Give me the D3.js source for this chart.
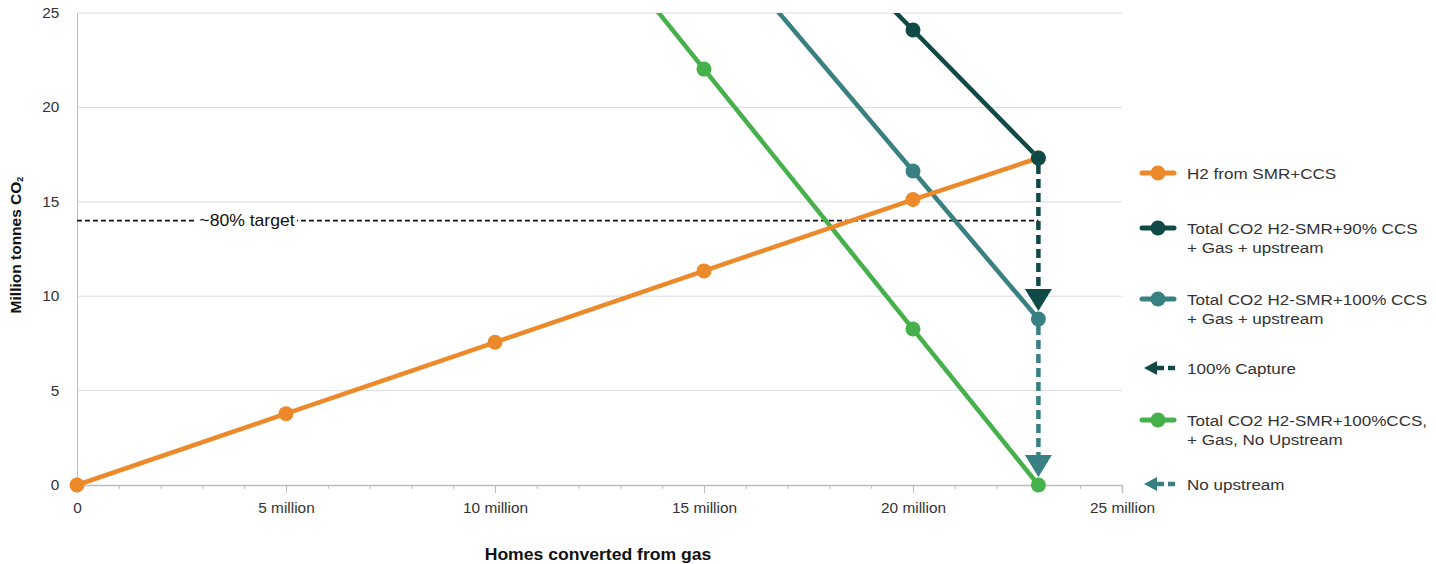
<!DOCTYPE html>
<html>
<head>
<meta charset="utf-8">
<script src="https://cdn.jsdelivr.net/npm/d3@7"></script>
<style>
  body { margin: 0; background: #fff; }
  svg { display: block; font-family: "Liberation Sans", Arial, sans-serif; }
</style>
</head>
<body>
<svg id="chart" width="1436" height="564"></svg>
<script>
// ---- Data ----
const homesMillions = [0, 5, 10, 15, 20, 23];
const h2FromSMR     = [0, 3.78, 7.56, 11.34, 15.12, 17.32];
const total90CCS    = [null, null, null, 35.4, 24.1, 17.32];
const total100CCS   = [null, null, null, 29.7, 16.63, 8.79];
const total100NoUp  = [null, null, 35.8, 22.03, 8.26, 0];
const targetValue = 14;
const targetEndX = 23;
const arrowX = 23;
const captureArrow = [17.32, 8.79];
const noUpstreamArrow = [8.79, 0];
const xTicks = [0, 5, 10, 15, 20, 25];
const yTicks = [0, 5, 10, 15, 20, 25];

const colors = {
  orange: "#EC8A2B",
  dark: "#0F4A46",
  teal: "#388081",
  green: "#46B04B"
};

const series = [
  { name: "H2 from SMR+CCS", values: h2FromSMR, color: colors.orange },
  { name: "Total CO2 H2-SMR+90% CCS", values: total90CCS, color: colors.dark },
  { name: "Total CO2 H2-SMR+100% CCS", values: total100CCS, color: colors.teal },
  { name: "Total CO2 H2-SMR+100%CCS, No Upstream", values: total100NoUp, color: colors.green }
];

const legendItems = [
  { type: "line", color: colors.orange, lines: ["H2 from SMR+CCS"] },
  { type: "line", color: colors.dark, lines: ["Total CO2 H2-SMR+90% CCS", "+ Gas + upstream"] },
  { type: "line", color: colors.teal, lines: ["Total CO2 H2-SMR+100% CCS", "+ Gas + upstream"] },
  { type: "arrow", color: colors.dark, lines: ["100% Capture"] },
  { type: "line", color: colors.green, lines: ["Total CO2 H2-SMR+100%CCS,", "+ Gas, No Upstream"] },
  { type: "arrow", color: colors.teal, lines: ["No upstream"] }
];

// ---- Layout ----
const svg = d3.select("#chart");
const mLeft = 77, mRight = 1122, mTop = 13, mBottom = 485;
const sx = 1.1; // horizontal stretch of text
const x = d3.scaleLinear().domain([0, 25]).range([mLeft, mRight]);
const y = d3.scaleLinear().domain([0, 25]).range([mBottom, mTop]);

// gridlines
svg.append("g").selectAll("line").data(yTicks.filter(d => d > 0)).join("line")
  .attr("x1", mLeft).attr("x2", mRight)
  .attr("y1", d => y(d)).attr("y2", d => y(d))
  .attr("stroke", "#dcdcdc").attr("stroke-width", 1);

// y axis
const yAxis = svg.append("g").attr("transform", `translate(${mLeft},0)`)
  .call(d3.axisLeft(y).tickValues(yTicks).tickSize(0).tickPadding(16));
yAxis.select(".domain").attr("stroke", "#bdbdbd");
yAxis.selectAll("text").attr("font-size", 14).attr("fill", "#333")
  .attr("font-family", "Liberation Sans, Arial, sans-serif")
  .attr("transform", `scale(${sx},1)`);

// x minor ticks
const minor = d3.range(1, 25).filter(d => d % 5 !== 0);
const xMinor = svg.append("g").attr("transform", `translate(0,${mBottom})`)
  .call(d3.axisBottom(x).tickValues(minor).tickSize(4).tickFormat(""));
xMinor.select(".domain").remove();
xMinor.selectAll("line").attr("stroke", "#bdbdbd");

// x axis
const xAxis = svg.append("g").attr("transform", `translate(0,${mBottom})`)
  .call(d3.axisBottom(x).tickValues(xTicks).tickSize(8).tickPadding(10)
    .tickFormat(d => d === 0 ? "0" : d + " million"));
xAxis.select(".domain").attr("stroke", "#bdbdbd").attr("stroke-width", 1.5);
xAxis.selectAll("line").attr("stroke", "#bdbdbd");
xAxis.selectAll("text").attr("font-size", 14).attr("fill", "#333")
  .attr("font-family", "Liberation Sans, Arial, sans-serif")
  .attr("transform", `scale(${sx},1)`);

// axis titles
svg.append("text").attr("transform", `translate(598,560) scale(${sx},1)`).attr("text-anchor", "middle")
  .attr("font-size", 16).attr("font-weight", "bold").attr("fill", "#111")
  .text("Homes converted from gas");
const yt = svg.append("text").attr("transform", "translate(21,245) rotate(-90)")
  .attr("text-anchor", "middle").attr("font-size", 15.5).attr("font-weight", "bold").attr("fill", "#111");
yt.append("tspan").text("Million tonnes CO");
yt.append("tspan").attr("font-size", 9).attr("dy", 2).text("2");

// target line
svg.append("line")
  .attr("x1", x(0)).attr("x2", x(targetEndX))
  .attr("y1", y(targetValue)).attr("y2", y(targetValue))
  .attr("stroke", "#111").attr("stroke-width", 1.8).attr("stroke-dasharray", "5,3");
const tLabelX = 247;
svg.append("rect").attr("x", tLabelX - 50).attr("y", y(targetValue) - 10)
  .attr("width", 100).attr("height", 20).attr("fill", "#fff");
svg.append("text").attr("transform", `translate(${tLabelX},${y(targetValue) + 5.5}) scale(${sx},1)`)
  .attr("text-anchor", "middle").attr("font-size", 16).attr("fill", "#111")
  .text("~80% target");

// clip
svg.append("clipPath").attr("id", "plotclip").append("rect")
  .attr("x", 0).attr("y", mTop).attr("width", 1436).attr("height", 564 - mTop);
const plot = svg.append("g").attr("clip-path", "url(#plotclip)");

// arrows
function drawArrow(g, xv, vals, color) {
  const px = x(xv);
  const y0 = y(vals[0]) + 7;
  const tip = y(vals[1]) - 8;
  const headH = 22, headW = 27;
  g.append("line").attr("x1", px).attr("x2", px)
    .attr("y1", y0).attr("y2", tip - headH + 2)
    .attr("stroke", color).attr("stroke-width", 4.5).attr("stroke-dasharray", "9,5");
  g.append("path")
    .attr("d", `M${px - headW / 2},${tip - headH}L${px + headW / 2},${tip - headH}L${px},${tip}Z`)
    .attr("fill", color);
}
drawArrow(svg, arrowX, captureArrow, colors.dark);
drawArrow(svg, arrowX, noUpstreamArrow, colors.teal);

// lines
const lineGen = d3.line().defined(d => d[1] !== null).x(d => x(d[0])).y(d => y(d[1]));
const lineOrder = [series[3], series[2], series[1], series[0]];
lineOrder.forEach(s => {
  const pts = homesMillions.map((h, i) => [h, s.values[i]]);
  plot.append("path").datum(pts).attr("d", lineGen)
    .attr("fill", "none").attr("stroke", s.color).attr("stroke-width", 4.5)
    .attr("stroke-linecap", "round");
});
const dotOrder = [series[0], series[3], series[2], series[1]];
dotOrder.forEach(s => {
  const pts = homesMillions.map((h, i) => [h, s.values[i]]).filter(d => d[1] !== null && d[1] <= 25);
  plot.selectAll(null).data(pts).join("circle")
    .attr("cx", d => x(d[0])).attr("cy", d => y(d[1])).attr("r", 7.5)
    .attr("fill", s.color);
});

// legend
const legX = 1142, textX = 1187;
const legRows = [173, 228, 299, 368, 420, 484];
const leg = svg.append("g");
legendItems.forEach((item, i) => {
  const cy = legRows[i];
  if (item.type === "line") {
    leg.append("line").attr("x1", legX).attr("x2", legX + 32).attr("y1", cy).attr("y2", cy)
      .attr("stroke", item.color).attr("stroke-width", 5).attr("stroke-linecap", "round");
    leg.append("circle").attr("cx", legX + 16).attr("cy", cy).attr("r", 7.5).attr("fill", item.color);
  } else {
    leg.append("path").attr("d", `M${legX + 2},${cy}L${legX + 15},${cy - 7}L${legX + 15},${cy + 7}Z`)
      .attr("fill", item.color);
    leg.append("line").attr("x1", legX + 14).attr("x2", legX + 33).attr("y1", cy).attr("y2", cy)
      .attr("stroke", item.color).attr("stroke-width", 4.5).attr("stroke-dasharray", "8,4");
  }
  const t = leg.append("text").attr("transform", `translate(${textX},${cy + 5.5}) scale(${sx},1)`)
    .attr("font-size", 15.5).attr("fill", "#333");
  item.lines.forEach((l, j) => {
    t.append("tspan").attr("x", 0).attr("dy", j === 0 ? 0 : 20).text(l);
  });
});
</script>
</body>
</html>
